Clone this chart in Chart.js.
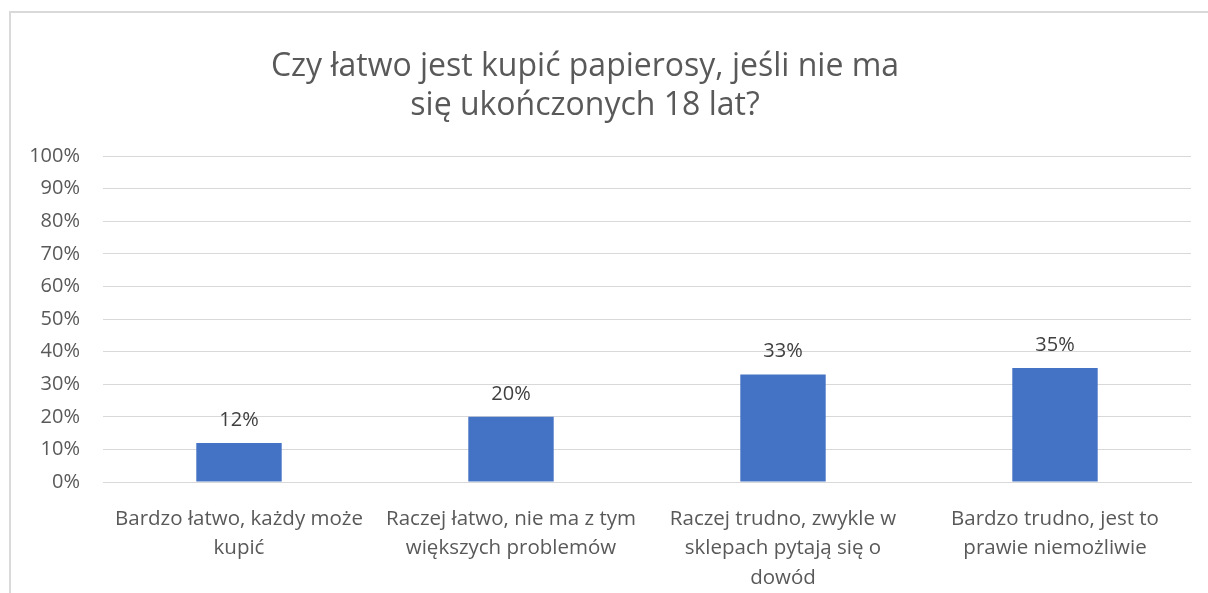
<!DOCTYPE html>
<html>
<head>
<meta charset="utf-8">
<script src="https://cdn.jsdelivr.net/npm/chart.js@4"></script>
<style>
  html, body { margin: 0; padding: 0; background: #fff; overflow: hidden; }
  #frame {
    position: absolute; left: 9px; top: 11px; width: 1199px; height: 582px;
    border-left: 2px solid #d9d9d9; border-top: 2px solid #d9d9d9;
  }
  canvas { display: block; }
</style>
</head>
<body>
<div id="frame"><canvas id="chart" width="1197" height="580"></canvas></div>
<script>
// chart data
const titleLines = ["Czy łatwo jest kupić papierosy, jeśli nie ma", "się ukończonych 18 lat?"];
const categories = [
  ["Bardzo łatwo, każdy może", "kupić"],
  ["Raczej łatwo, nie ma z tym", "większych problemów"],
  ["Raczej trudno, zwykle w", "sklepach pytają się o", "dowód"],
  ["Bardzo trudno, jest to", "prawie niemożliwie"]
];
const shares = [0.12, 0.20, 0.33, 0.35];
const yTicks = [0, 0.1, 0.2, 0.3, 0.4, 0.5, 0.6, 0.7, 0.8, 0.9, 1];

const FONT = "'Open Sans', 'Noto Sans', sans-serif";
const pct = (v) => Math.round(v * 100) + "%";

// draws the two-line title a bit left of canvas centre, like the original
const titlePlugin = {
  id: "excelTitle",
  afterDraw(chart) {
    const ctx = chart.ctx;
    ctx.save();
    ctx.font = "32px " + FONT;
    ctx.fillStyle = "#595959";
    ctx.textAlign = "center";
    ctx.textBaseline = "middle";
    titleLines.forEach((line, i) => ctx.fillText(line, 574, 54 + i * 39));
    ctx.restore();
  }
};

// value labels above each bar
const valueLabels = {
  id: "valueLabels",
  afterDatasetsDraw(chart) {
    const ctx = chart.ctx;
    ctx.save();
    ctx.font = "20px " + FONT;
    ctx.fillStyle = "#404040";
    ctx.textAlign = "center";
    ctx.textBaseline = "alphabetic";
    chart.getDatasetMeta(0).data.forEach((bar, i) => {
      ctx.fillText(pct(shares[i]), bar.x, bar.y - 17);
    });
    ctx.restore();
  }
};

new Chart(document.getElementById("chart"), {
  type: "bar",
  data: {
    labels: categories,
    datasets: [{
      data: shares,
      backgroundColor: "#4472c4",
      borderColor: "#4472c4",
      borderWidth: 0,
      barPercentage: 0.314,
      categoryPercentage: 1
    }]
  },
  options: {
    responsive: false,
    animation: false,
    layout: { padding: { top: 143, right: 17, bottom: 0, left: 0 } },
    plugins: {
      legend: { display: false },
      title: { display: false },
      tooltip: { enabled: false }
    },
    scales: {
      x: {
        grid: { display: false },
        border: { display: true, color: "#d9d9d9", width: 1 },
        ticks: {
          color: "#595959",
          font: { family: FONT, size: 20.5, lineHeight: 1.44 },
          maxRotation: 0,
          autoSkip: false,
          padding: 14
        },
        afterFit(scale) { scale.height = 111; }
      },
      y: {
        min: 0,
        max: 1,
        afterBuildTicks(scale) { scale.ticks = yTicks.map(v => ({ value: v })); },
        grid: { color: "#d9d9d9", lineWidth: 1, drawTicks: false },
        border: { display: false },
        ticks: {
          color: "#595959",
          font: { family: FONT, size: 20 },
          padding: 23,
          callback: (v) => pct(v)
        },
        afterFit(scale) { scale.width = 92; }
      }
    }
  },
  plugins: [titlePlugin, valueLabels]
});
</script>
</body>
</html>
